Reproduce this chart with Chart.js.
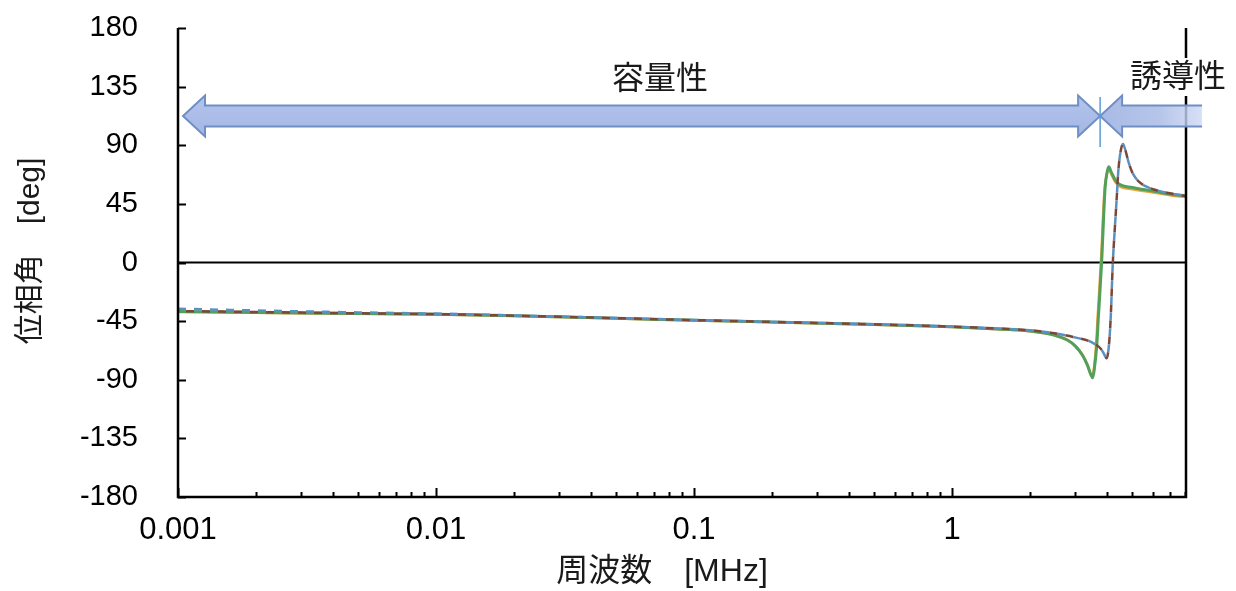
<!DOCTYPE html>
<html>
<head>
<meta charset="utf-8">
<script src="https://cdn.jsdelivr.net/npm/chart.js@4.4.1/dist/chart.umd.min.js"></script>
<style>
  html, body { margin: 0; padding: 0; background: #fff; }
  #wrap { width: 1236px; height: 591px; }
</style>
</head>
<body>
<div id="wrap"><canvas id="c" width="1236" height="591"></canvas></div>
<script>
// ---- axis settings ----
const xMin = 0.001;           // MHz
const xMax = 8.07;            // MHz
const xMajorTicks = [0.001, 0.01, 0.1, 1];
const xMajorLabels = ['0.001', '0.01', '0.1', '1'];
const yTicks = [-180, -135, -90, -45, 0, 45, 90, 135, 180];

// boundary between capacitive and inductive regions [MHz]
const boundaryFreq = 3.75;
const arrowPhase = 112.5;     // deg, height of the region arrows

// ---- series: frequency [MHz] / phase angle [deg] ----
const greenFreq  = [0.001, 0.002, 0.005, 0.01, 0.02, 0.05, 0.1, 0.2, 0.5, 1, 1.5, 2, 2.5,
                    2.8, 3.0, 3.2, 3.35, 3.45, 3.51, 3.56, 3.64, 3.69, 3.8, 3.92, 3.98, 4.05,
                    4.15, 4.3, 4.45, 5.0, 5.5, 6.0, 6.5, 7.0, 7.5, 8.07];
const greenPhase = [-37.6, -38.3, -39.1, -39.7, -40.9, -42.8, -44.3, -45.7, -47.6, -49.4, -51.0, -52.6, -55.8,
                    -59.5, -64.0, -71.0, -79.0, -86.0, -88.5, -82.0, -63.5, -43.0, 0.0, 57.0, 68.0, 73.5,
                    69.0, 63.0, 60.0, 57.5, 56.0, 54.8, 53.6, 52.6, 51.8, 51.2];

const orangeFreq  = [0.001, 0.002, 0.005, 0.01, 0.02, 0.05, 0.1, 0.2, 0.5, 1, 1.5, 2, 2.5,
                     2.8, 3.0, 3.2, 3.35, 3.45, 3.5, 3.55, 3.62, 3.67, 3.78, 3.9, 3.97, 4.04,
                     4.15, 4.3, 4.45, 5.0, 5.5, 6.0, 6.5, 7.0, 7.5, 8.07];
const orangePhase = [-38.0, -38.6, -39.4, -40.0, -41.1, -43.0, -44.5, -45.9, -47.8, -49.6, -51.2, -52.8, -55.9,
                     -59.6, -64.0, -70.8, -78.5, -85.5, -87.5, -81.0, -62.0, -41.0, 2.0, 56.0, 66.5, 72.0,
                     67.5, 61.5, 58.5, 56.3, 54.9, 53.8, 52.7, 51.7, 50.9, 50.3];

const brownFreq  = [0.001, 0.002, 0.005, 0.01, 0.02, 0.05, 0.1, 0.2, 0.5, 1, 1.5, 2, 2.5,
                    3.0, 3.5, 3.8, 3.9, 3.97, 4.05, 4.12, 4.2, 4.25, 4.3, 4.35, 4.41, 4.5,
                    4.6, 4.7, 4.85, 5.0, 5.3, 5.7, 6.2, 6.8, 7.5, 8.07];
const brownPhase = [-37.3, -38.0, -39.0, -39.6, -40.8, -42.7, -44.2, -45.6, -47.4, -49.2, -50.6, -52.0, -54.3,
                    -57.5, -61.5, -67.0, -71.0, -73.5, -65.0, -43.0, 0.0, 18.0, 34.0, 50.0, 70.0, 85.0,
                    91.0, 86.0, 76.0, 69.0, 62.0, 58.0, 55.5, 53.5, 52.0, 51.0];

const blueFreq  = [0.001, 0.002, 0.005, 0.01, 0.02, 0.05, 0.1, 0.2, 0.5, 1, 1.5, 2, 2.5,
                   3.0, 3.5, 3.8, 3.9, 3.97, 4.05, 4.12, 4.2, 4.25, 4.3, 4.35, 4.41, 4.5,
                   4.6, 4.7, 4.85, 5.0, 5.3, 5.7, 6.2, 6.8, 7.5, 8.07];
const bluePhase = [-35.5, -36.8, -38.3, -39.2, -40.6, -42.6, -44.1, -45.6, -47.4, -49.2, -50.6, -52.0, -54.3,
                   -57.5, -61.5, -67.0, -71.0, -73.5, -65.0, -43.0, 0.0, 18.0, 34.0, 50.0, 70.0, 85.0,
                   91.0, 86.0, 76.0, 69.0, 62.0, 58.0, 55.5, 53.5, 52.0, 51.0];

function toPoints(freqs, phases) {
  return freqs.map((f, i) => ({ x: f, y: phases[i] }));
}

// minor ticks 2..9 within each decade
const xTickValues = [];
xMajorTicks.forEach(m => {
  for (let k = 1; k <= 9; k++) {
    const v = +(m * k).toPrecision(6);
    if (v <= xMax) xTickValues.push(v);
  }
});

const latinFont = '"Liberation Sans", Arial, sans-serif';
const cjkFont = '"Liberation Sans", "Noto Sans CJK JP", sans-serif';

// axes frame, inner tick marks, zero line, region arrows and labels
const framePlugin = {
  id: 'frame',
  beforeDatasetsDraw(chart) {
    const { ctx, chartArea: a, scales: { y } } = chart;
    const y0 = y.getPixelForValue(0);
    ctx.save();
    ctx.strokeStyle = '#000';
    ctx.lineWidth = 2;
    ctx.beginPath();
    ctx.moveTo(a.left, y0);
    ctx.lineTo(a.right, y0);
    ctx.stroke();
    ctx.restore();
  },
  afterDatasetsDraw(chart) {
    const { ctx, chartArea: a, scales: { x, y } } = chart;
    ctx.save();
    ctx.strokeStyle = '#000';
    ctx.lineWidth = 2.5;
    ctx.beginPath();
    ctx.moveTo(a.left, a.top);
    ctx.lineTo(a.left, a.bottom);
    ctx.lineTo(a.right, a.bottom);
    ctx.lineTo(a.right, a.top);
    ctx.stroke();

    ctx.lineWidth = 2;
    ctx.beginPath();
    yTicks.forEach(v => {
      const py = Math.round(y.getPixelForValue(v)) + 0.5;
      ctx.moveTo(a.left, py);
      ctx.lineTo(a.left + 8, py);
    });
    xTickValues.forEach(v => {
      const px = Math.round(x.getPixelForValue(v)) + 0.5;
      const len = xMajorTicks.includes(v) ? 9 : 5;
      ctx.moveTo(px, a.bottom);
      ctx.lineTo(px, a.bottom - len);
    });
    ctx.stroke();

    // region arrows
    const xb = x.getPixelForValue(boundaryFreq);
    const yc = y.getPixelForValue(arrowPhase);
    const bodyH = 10.5, headH = 20.5, headL = 22;

    // capacitive: double-headed
    const x1 = a.left + 5;
    ctx.beginPath();
    ctx.moveTo(x1, yc);
    ctx.lineTo(x1 + headL, yc - headH);
    ctx.lineTo(x1 + headL, yc - bodyH);
    ctx.lineTo(xb - headL, yc - bodyH);
    ctx.lineTo(xb - headL, yc - headH);
    ctx.lineTo(xb, yc);
    ctx.lineTo(xb - headL, yc + headH);
    ctx.lineTo(xb - headL, yc + bodyH);
    ctx.lineTo(x1 + headL, yc + bodyH);
    ctx.lineTo(x1 + headL, yc + headH);
    ctx.closePath();
    const g1 = ctx.createLinearGradient(0, yc - headH, 0, yc + headH);
    g1.addColorStop(0, '#b4c5ec');
    g1.addColorStop(1, '#a3b6e3');
    ctx.fillStyle = g1;
    ctx.fill();
    ctx.strokeStyle = '#6f8fc4';
    ctx.lineWidth = 2;
    ctx.stroke();

    // inductive: head on the left, open tail on the right
    const x2 = a.right + 16;
    ctx.beginPath();
    ctx.moveTo(x2, yc - bodyH);
    ctx.lineTo(xb + headL, yc - bodyH);
    ctx.lineTo(xb + headL, yc - headH);
    ctx.lineTo(xb, yc);
    ctx.lineTo(xb + headL, yc + headH);
    ctx.lineTo(xb + headL, yc + bodyH);
    ctx.lineTo(x2, yc + bodyH);
    const g2 = ctx.createLinearGradient(xb, 0, x2, 0);
    g2.addColorStop(0, 'rgba(163,182,227,0.95)');
    g2.addColorStop(0.6, 'rgba(170,188,230,0.85)');
    g2.addColorStop(1, 'rgba(205,216,243,0.8)');
    ctx.fillStyle = g2;
    ctx.fill();
    ctx.strokeStyle = '#6f8fc4';
    ctx.stroke();

    // boundary marker
    ctx.strokeStyle = '#5b9bd5';
    ctx.lineWidth = 1.5;
    ctx.beginPath();
    ctx.moveTo(xb, yc - 19);
    ctx.lineTo(xb, yc + 31);
    ctx.stroke();

    // region labels
    ctx.font = '32px "Noto Sans CJK JP", sans-serif';
    ctx.textAlign = 'center';
    ctx.textBaseline = 'middle';
    ctx.fillStyle = '#1a1a1a';
    ctx.fillText('容量性', 660, 77);
    const t2 = '誘導性';
    const w2 = ctx.measureText(t2).width;
    ctx.fillStyle = '#fff';
    ctx.fillRect(1178 - w2 / 2 - 3, 58, w2 + 6, 38);
    ctx.fillStyle = '#1a1a1a';
    ctx.fillText(t2, 1178, 75);

    // axis titles
    ctx.font = '30px ' + cjkFont;
    ctx.save();
    ctx.translate(31, 251);
    ctx.rotate(-Math.PI / 2);
    ctx.fillText('位相角　[deg]', 0, 0);
    ctx.restore();
    ctx.font = '32px ' + cjkFont;
    ctx.fillText('周波数　[MHz]', 662, 572);
    ctx.restore();
  }
};

new Chart(document.getElementById('c'), {
  type: 'line',
  data: {
    datasets: [
      {
        label: 'φ1', data: toPoints(blueFreq, bluePhase), order: 1,
        borderColor: '#5a8fc4', borderWidth: 2.5, borderDash: [8, 8], borderDashOffset: 0
      },
      {
        label: 'φ2', data: toPoints(brownFreq, brownPhase), order: 2,
        borderColor: '#7e4636', borderWidth: 2.5, borderDash: [8, 8], borderDashOffset: 8
      },
      {
        label: 'φ3', data: toPoints(greenFreq, greenPhase), order: 3,
        borderColor: '#52a05a', borderWidth: 3
      },
      {
        label: 'φ4', data: toPoints(orangeFreq, orangePhase), order: 4,
        borderColor: '#f2a23a', borderWidth: 2.5
      }
    ]
  },
  options: {
    responsive: false,
    animation: false,
    elements: {
      point: { radius: 0 },
      line: { cubicInterpolationMode: 'monotone', fill: false }
    },
    layout: { padding: { top: 28, right: 50, left: 0, bottom: 0 } },
    plugins: { legend: { display: false }, tooltip: { enabled: false } },
    scales: {
      x: {
        type: 'logarithmic',
        min: xMin,
        max: xMax,
        grid: { display: false, drawTicks: false },
        border: { display: false },
        afterBuildTicks: s => { s.ticks = xTickValues.map(v => ({ value: v })); },
        afterFit: s => { s.height = 94; s.paddingLeft = 0; s.paddingRight = 0; },
        ticks: {
          autoSkip: false,
          maxRotation: 0,
          padding: 15,
          color: '#000',
          font: { family: latinFont, size: 31 },
          callback: v => {
            const i = xMajorTicks.indexOf(v);
            return i >= 0 ? xMajorLabels[i] : '';
          }
        }
      },
      y: {
        min: -180,
        max: 180,
        grid: { display: false, drawTicks: false },
        border: { display: false },
        afterBuildTicks: s => { s.ticks = yTicks.map(v => ({ value: v })); },
        afterFit: s => { s.width = 178; s.paddingTop = 0; s.paddingBottom = 0; },
        ticks: {
          padding: 40,
          color: '#000',
          font: { family: latinFont, size: 29 }
        }
      }
    }
  },
  plugins: [framePlugin]
});
</script>
</body>
</html>
